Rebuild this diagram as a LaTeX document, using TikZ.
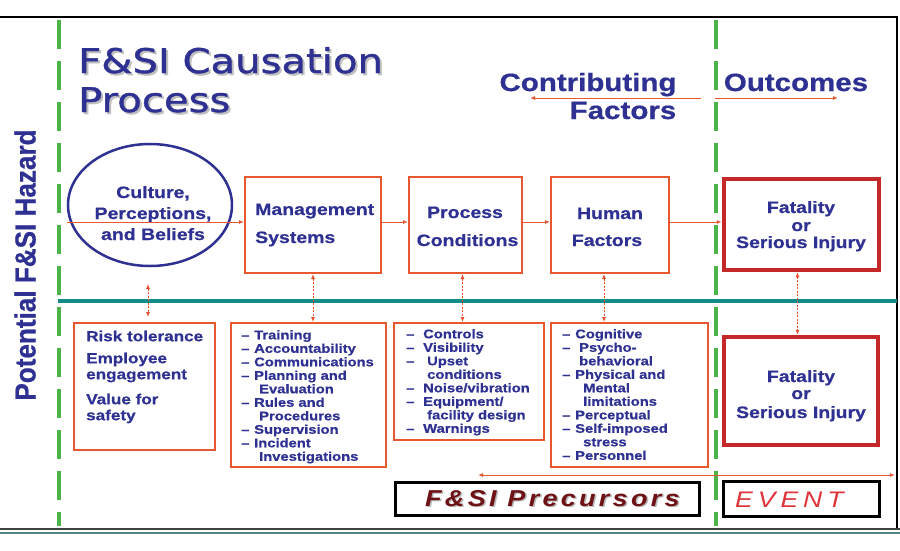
\documentclass[tikz,border=0pt]{standalone}
\usepackage{fontspec}
\setmainfont{Liberation Sans}
\newfontfamily\bodyf[FakeStretch=1.18,BoldFeatures={FakeBold=0.6}]{Liberation Sans}
\newfontfamily\titlef[FakeStretch=1.18,FakeBold=1.2]{DejaVu Sans}
\newfontfamily\vertf[FakeStretch=0.9,BoldFeatures={FakeBold=0.6}]{Liberation Sans}
\newfontfamily\precf[FakeStretch=1.18,LetterSpace=14]{Liberation Sans}
\newfontfamily\eventf[FakeStretch=1.18,LetterSpace=22]{Liberation Sans}
\usetikzlibrary{shapes.geometric,arrows.meta}
\definecolor{navy}{RGB}{46,49,146}
\definecolor{orng}{RGB}{232,88,48}
\definecolor{dred}{RGB}{196,40,40}
\definecolor{grn}{RGB}{76,180,72}
\definecolor{tealline}{RGB}{20,140,140}
\definecolor{maroonx}{RGB}{110,18,22}
\definecolor{evred}{RGB}{222,52,58}
\newcommand\lidash[1]{\makebox[#1pt][l]{–}}
\tikzset{
  obox/.style={draw=orng, line width=2pt, inner sep=0pt},
  rbox/.style={draw=dred, line width=4.5pt, inner sep=0pt},
  kbox/.style={draw=black, line width=3pt, inner sep=0pt},
  txt/.style={text=navy, inner sep=0pt},
  bigtxt/.style={txt, font=\bodyf\bfseries\fontsize{16.5}{20}\selectfont},
  listtxt/.style={txt, align=left, anchor=north west, font=\bodyf\bfseries\fontsize{12.5}{13.5}\selectfont},
  arr/.style={draw=orng, line width=1pt, -{Latex[length=5pt,width=4pt]}},
  darr/.style={draw=orng, line width=1pt, {Latex[length=5pt,width=4pt]}-{Latex[length=5pt,width=4pt]}},
  dotarr/.style={draw=orng!85!red, line width=0.9pt, dash pattern=on 2pt off 1.5pt, {Latex[length=5pt,width=4pt]}-{Latex[length=5pt,width=4pt]}},
  gdash/.style={draw=grn, line width=4pt, dash pattern=on 29pt off 12pt},
  titletxt/.style={anchor=base west, inner sep=0pt, font=\titlef\fontsize{34}{40}\selectfont},
}
\begin{document}
\begin{tikzpicture}[x=1pt,y=-1pt]
\useasboundingbox (0,0) rectangle (900,550);
\fill[white] (0,0) rectangle (900,550);
% frame
\draw[line width=1.2pt] (0,17) -- (897,17) -- (897,528);
\draw[line width=1.6pt, black!75] (0,529) -- (900,529);
\draw[line width=1.4pt, gray!60!tealline] (0,533) -- (900,533);
% green dashed dividers
\draw[gdash] (59,20) -- (59,526);
\draw[gdash] (716,20) -- (716,526);
% teal line
\draw[draw=tealline, line width=4pt] (58,301) -- (897,301);
% title (shadow drawn as a second copy of the same text)
\node[titletxt, text=navy] (t1) at (78,73) {\rlap{\kern2pt\raisebox{-2pt}{\textcolor{gray!50}{F\&SI Causation}}}F\&SI Causation};
\node[titletxt, text=navy] (t2) at (78,112) {\rlap{\kern2pt\raisebox{-2pt}{\textcolor{gray!50}{Process}}}Process};
% vertical label
\node[txt, rotate=90, anchor=base, font=\vertf\bfseries\fontsize{29}{32}\selectfont] (vlab) at (35.5,265) {Potential F\&SI Hazard};
% header
\node[txt, anchor=base, font=\bodyf\bfseries\fontsize{25}{28}\selectfont] (contrib) at (588,91) {Contributing};
\node[txt, anchor=base, font=\bodyf\bfseries\fontsize{25}{28}\selectfont] (factors) at (623,119) {Factors};
\node[txt, anchor=base, font=\bodyf\bfseries\fontsize{25}{28}\selectfont] (outc) at (796,91) {Outcomes};
\coordinate (ca1) at (701,98);
\coordinate (ca2) at (530,98);
\coordinate (oa1) at (715,98);
\coordinate (oa2) at (838,98);
\draw[arr] (ca1) -- (ca2);
\draw[arr] (oa1) -- (oa2);
% top row
\node[draw=navy, line width=2.5pt, ellipse, minimum width=164pt, minimum height=122pt, inner sep=0pt] (cpb) at (150,205) {};
\node[bigtxt, anchor=base] (cpb1) at (153,198) {Culture,};
\node[bigtxt, anchor=base] (cpb2) at (153,219) {Perceptions,};
\node[bigtxt, anchor=base] (cpb3) at (153,240) {and Beliefs};
\node[obox, minimum width=136pt, minimum height=96pt] (ms) at (313,225) {};
\node[bigtxt, anchor=base west] (ms1) at (255,215) {Management};
\node[bigtxt, anchor=base west] (ms2) at (255,243) {Systems};
\node[obox, minimum width=113pt, minimum height=96pt] (pc) at (465.5,225) {};
\node[bigtxt, anchor=base] (pc1) at (465,218) {Process};
\node[bigtxt, anchor=base] (pc2) at (467.5,246) {Conditions};
\node[obox, minimum width=118pt, minimum height=96pt] (hf) at (610,225) {};
\node[bigtxt, anchor=base] (hf1) at (610,219) {Human};
\node[bigtxt, anchor=base] (hf2) at (607,246) {Factors};
\node[rbox, minimum width=155pt, minimum height=91pt] (fs) at (801.5,224.5) {};
\node[bigtxt, anchor=base] (fs1) at (801,213) {Fatality};
\node[bigtxt, anchor=base] (fs2) at (801,231) {or};
\node[bigtxt, anchor=base] (fs3) at (801,248) {Serious Injury};
% flow arrows
\draw[arr] (cpb.west |- 0,222) -- (ms.west |- 0,222);
\draw[arr] (ms.east |- 0,222) -- (pc.west |- 0,222);
\draw[arr] (pc.east |- 0,222) -- (hf.west |- 0,222);
\draw[arr] (hf.east |- 0,222) -- (fs.west |- 0,222);
% bottom row
\node[obox, minimum width=141pt, minimum height=127pt] (risk) at (144.5,386.5) {};
\node[txt, align=left, anchor=north west, font=\bodyf\bfseries\fontsize{14.5}{16}\selectfont] (risktxt) at (86,330.5) {Risk tolerance\\[6pt]Employee\\engagement\\[9pt]Value for\\safety};
\node[obox, minimum width=155pt, minimum height=144pt] (msl) at (308.5,395) {};
\node[listtxt] (msltxt) at (241,330) {\lidash{13}Training\\\lidash{13}Accountability\\\lidash{13}Communications\\\lidash{13}Planning and\\\hspace*{18pt}Evaluation\\\lidash{13}Rules and\\\hspace*{18pt}Procedures\\\lidash{13}Supervision\\\lidash{13}Incident\\\hspace*{18pt}Investigations};
\node[obox, minimum width=150pt, minimum height=117pt] (pcl) at (469,381.5) {};
\node[listtxt] (pcltxt) at (406,329) {\lidash{17}Controls\\\lidash{17}Visibility\\\lidash{21}Upset\\\hspace*{21pt}conditions\\\lidash{17}Noise/vibration\\\lidash{17}Equipment/\\\hspace*{21pt}facility design\\\lidash{17}Warnings};
\node[obox, minimum width=157pt, minimum height=144pt] (hfl) at (629.5,395) {};
\node[listtxt] (hfltxt) at (562,329) {\lidash{13}Cognitive\\\lidash{17}Psycho-\\\hspace*{17pt}behavioral\\\lidash{13}Physical and\\\hspace*{21pt}Mental\\\hspace*{21pt}limitations\\\lidash{13}Perceptual\\\lidash{13}Self-imposed\\\hspace*{21pt}stress\\\lidash{13}Personnel};
\node[rbox, minimum width=154pt, minimum height=108pt] (fsb) at (801,391) {};
\node[bigtxt, anchor=base] (fsb1) at (801,382) {Fatality};
\node[bigtxt, anchor=base] (fsb2) at (801,399) {or};
\node[bigtxt, anchor=base] (fsb3) at (801,418) {Serious Injury};
% vertical dotted links
\coordinate (r1) at (148,284);
\coordinate (r2) at (148,317);
\draw[dotarr] (r1) -- (r2);
\draw[dotarr] (ms.south) -- (ms.south |- msl.north);
\draw[dotarr] ([xshift=-3pt]pc.south) -- ([xshift=-3pt]pc.south |- pcl.north);
\draw[dotarr] ([xshift=-6pt]hf.south) -- ([xshift=-6pt]hf.south |- hfl.north);
\draw[dotarr] ([xshift=-4pt]fs.south) -- ([xshift=-4pt]fs.south |- fsb.north);
% bottom arrow
\coordinate (b1) at (478,475);
\coordinate (b2) at (895,475);
\draw[darr] (b1) -- (b2);
% precursors / event
\node[kbox, minimum width=304pt, minimum height=33pt] (prec) at (547.5,499) {};
\node[anchor=base west, inner sep=0pt, text=maroonx, font=\precf\bfseries\itshape\fontsize{23}{26}\selectfont] (prect) at (425,506) {\rlap{\kern1.5pt\raisebox{-1.5pt}{\textcolor{gray!55}{F\&SI Precursors}}}F\&SI Precursors};
\node[kbox, minimum width=156pt, minimum height=35pt] (ev) at (801.5,499) {};
\node[anchor=base west, inner sep=0pt, text=evred, font=\eventf\itshape\fontsize{22.5}{26}\selectfont] (evt) at (735,507) {EVENT};
\end{tikzpicture}
\end{document}
